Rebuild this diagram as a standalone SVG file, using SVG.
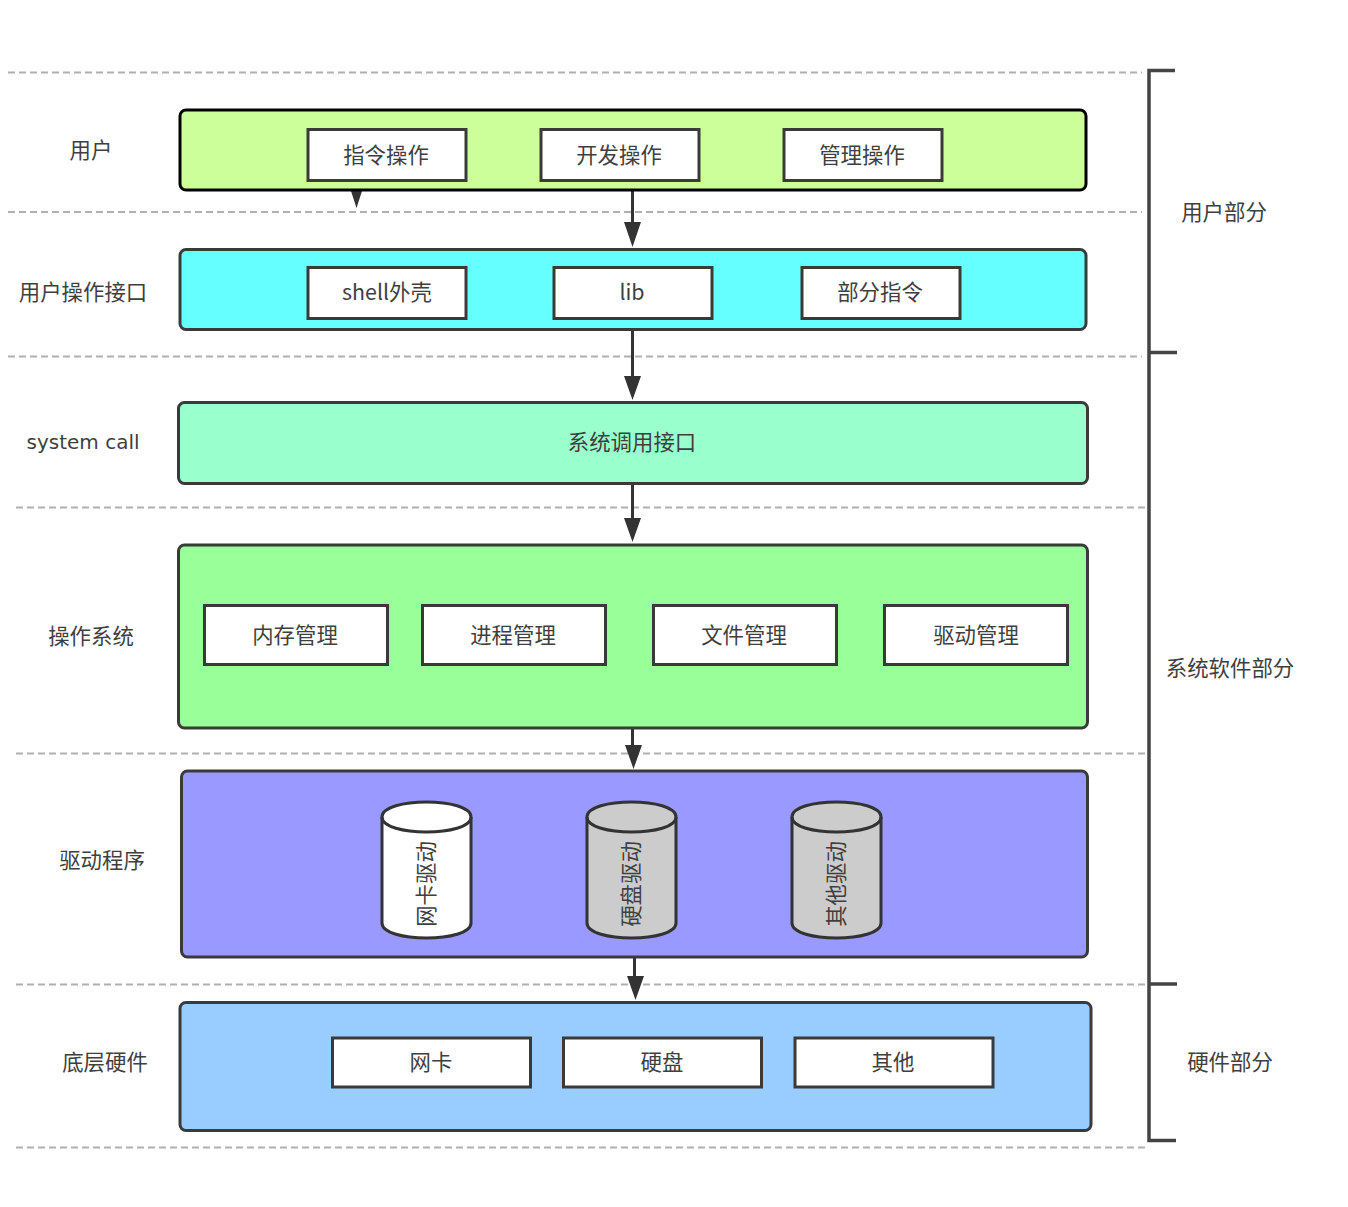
<svg xmlns="http://www.w3.org/2000/svg" width="1348" height="1207" viewBox="0 0 1348 1207">
<style>
text{font-family:"Noto Sans CJK SC","Liberation Sans",sans-serif;font-size:21.4px;fill:#3f3f3f;text-anchor:middle;dominant-baseline:central}
.lat{font-family:"DejaVu Sans","Noto Sans CJK SC",sans-serif;font-size:20px}
.band{stroke:#3a3a3a;stroke-width:3}
.b{fill:#fff;stroke:#3a3a3a;stroke-width:3}
.d{stroke:#b0b0b0;stroke-width:2;stroke-dasharray:7 4;fill:none}
.c{stroke:#333;stroke-width:3;fill:none}
.br{stroke:#444;stroke-width:3.5;fill:none}
.cy{stroke:#333;stroke-width:3}
</style>
<g id="separators">
<path class="d" d="M8 72.500H1142M8 212H1142M8 356.500H1142M16 507.500H1148M16 753.500H1148M16 984.500H1148M16 1147.500H1148"/>
</g>
<g id="connectors">
<path class="c" d="M632.500 190V222M632.500 330V376M632.500 484V518M632.500 729V745M634.500 958V976"/>
<path fill="#333" d="M624 222H641L632.500 247ZM624 376H641L632.500 400ZM624 518H641L632.500 542ZM625 745H642L633.500 769ZM627 976H644L635.500 1000ZM351 191H362L356.500 208Z"/>
</g>
<g id="brackets">
<path class="br" d="M1175 70.500H1149V1140.500H1176M1149 352.500H1177M1149 984H1177"/>
</g>
<g id="user"><rect x="180" y="110" width="906" height="80" rx="6" fill="#ccff99" stroke="#000" stroke-width="3"/><text x="91" y="148.500">用户</text>
<g id="u1"><rect class="b" x="308" y="129.500" width="158" height="51"/><text x="386" y="153.500">指令操作</text></g>
<g id="u2"><rect class="b" x="541" y="129.500" width="158" height="51"/><text x="619" y="153.500">开发操作</text></g>
<g id="u3"><rect class="b" x="784" y="129.500" width="158" height="51"/><text x="862" y="153.500">管理操作</text></g></g>
<g id="userif"><rect class="band" x="180" y="249.500" width="906" height="80" rx="6" fill="#66ffff"/><text x="83" y="290.500">用户操作接口</text>
<g id="s1"><rect class="b" x="308" y="267.500" width="158" height="51"/><text x="387" y="290.500">shell外壳</text></g>
<g id="s2"><rect class="b" x="554" y="267.500" width="158" height="51"/><text x="632" y="290.500">lib</text></g>
<g id="s3"><rect class="b" x="802" y="267.500" width="158" height="51"/><text x="880" y="290.500">部分指令</text></g></g>
<g id="syscall"><rect class="band" x="178.500" y="402.500" width="909" height="81" rx="6" fill="#99ffcc"/><text class="lat" x="83" y="441.500">system call</text><text x="632" y="440.500">系统调用接口</text></g>
<g id="os"><rect class="band" x="178.500" y="545" width="909" height="183" rx="6" fill="#99ff99"/><text x="91" y="634.500">操作系统</text>
<g id="o1"><rect class="b" x="204.500" y="605.500" width="183" height="59"/><text x="295" y="633.500">内存管理</text></g>
<g id="o2"><rect class="b" x="422.500" y="605.500" width="183" height="59"/><text x="513" y="633.500">进程管理</text></g>
<g id="o3"><rect class="b" x="653.500" y="605.500" width="183" height="59"/><text x="744" y="633.500">文件管理</text></g>
<g id="o4"><rect class="b" x="884.500" y="605.500" width="183" height="59"/><text x="976" y="633.500">驱动管理</text></g></g>
<g id="driver"><rect class="band" x="181.500" y="771" width="906" height="186" rx="6" fill="#9999ff"/><text x="102" y="858.500">驱动程序</text>
<g id="c1"><path class="cy" fill="#fff" d="M382 817C382 797 471 797 471 817V923C471 943 382 943 382 923Z"/><path class="cy" fill="none" d="M382 817C382 837 471 837 471 817"/><text transform="translate(424.500 884) rotate(-90)">网卡驱动</text></g>
<g id="c2"><path class="cy" fill="#cccccc" d="M587 817C587 797 676 797 676 817V923C676 943 587 943 587 923Z"/><path class="cy" fill="none" d="M587 817C587 837 676 837 676 817"/><text transform="translate(629.500 884) rotate(-90)">硬盘驱动</text></g>
<g id="c3"><path class="cy" fill="#cccccc" d="M792 817C792 797 881 797 881 817V923C881 943 792 943 792 923Z"/><path class="cy" fill="none" d="M792 817C792 837 881 837 881 817"/><text transform="translate(834.500 884) rotate(-90)">其他驱动</text></g></g>
<g id="hw"><rect class="band" x="180" y="1002.500" width="911" height="128" rx="6" fill="#99ccff"/><text x="105" y="1060.500">底层硬件</text>
<g id="h1"><rect class="b" x="332.500" y="1038" width="198" height="49"/><text x="431" y="1060.500">网卡</text></g>
<g id="h2"><rect class="b" x="563.500" y="1038" width="198" height="49"/><text x="662" y="1060.500">硬盘</text></g>
<g id="h3"><rect class="b" x="795" y="1038" width="198" height="49"/><text x="893" y="1060.500">其他</text></g></g>
<g id="parts"><text x="1224" y="210.500">用户部分</text><text x="1230" y="666.500">系统软件部分</text><text x="1230" y="1060.500">硬件部分</text></g>
</svg>
